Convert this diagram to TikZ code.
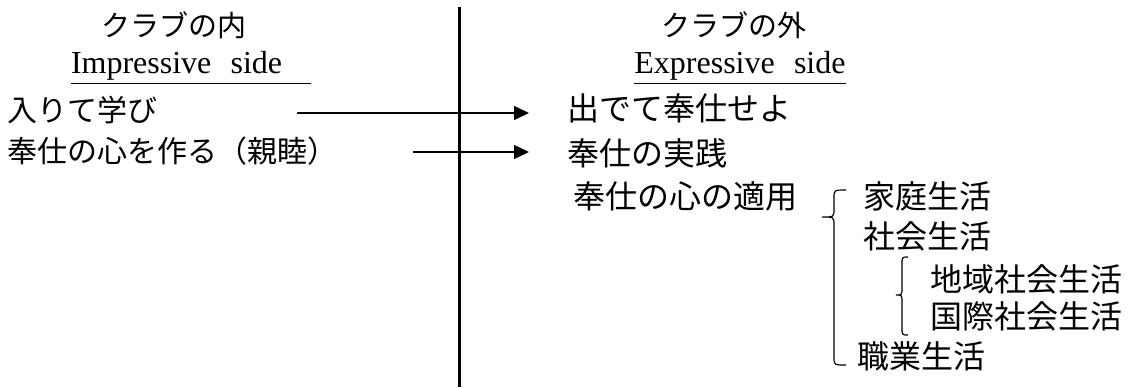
\documentclass[tikz,border=0pt]{standalone}
\usepackage{fontspec}
\setmainfont{Liberation Serif}
\newfontfamily\jpfont{Noto Sans CJK JP}
\usetikzlibrary{arrows.meta}
\def\leftbrace[#1](#2,#3)(#4:#5:#6){\draw[#1] (#2+#3,#4) .. controls (#2,#4) .. (#2,#4+8) -- (#2,#5-8) .. controls (#2,#5) .. (#2-#3,#5) .. controls (#2,#5) .. (#2,#5+8) -- (#2,#6-8) .. controls (#2,#6) .. (#2+#3,#6);}
\tikzset{
  head/.style={font=\jpfont\fontsize{14.5}{16}\selectfont, inner sep=0pt},
  side/.style={font=\fontsize{16}{18}\selectfont, inner sep=0pt},
  left/.style={font=\jpfont\fontsize{15}{18}\selectfont, inner sep=0pt, anchor=west},
  right/.style={font=\jpfont\fontsize{16}{18}\selectfont, inner sep=0pt, anchor=west},
  arr/.style={line width=0.75pt, -{Triangle[length=7.5pt,width=7pt]}, shorten >=19pt}
}

\begin{document}
\begin{tikzpicture}[x=0.5pt,y=-0.5pt]
		%%%%% START %%%%%
		\useasboundingbox (0,0) rectangle (1136,387);
		
		\draw[line width=1.5pt] (459,7) -- (459,387);
		
		\node[head] (inhead) at (174,25) {クラブの内};
		\node[head] (outhead) at (734,25) {クラブの外};
		\node[side] (inside) at (191,68) {\underline{Impressive\hspace{0.6em}side\hspace{0.9em}}};
		\node[side] (outside) at (740,68) {\underline{Expressive\hspace{0.6em}side}};
		
		\node[left] (learn) at (7,110) {入りて学び};
		\node[left] (heart) at (7,151) {奉仕の心を作る（親睦）};
		
		\node[right] (serve) at (567,108) {出でて奉仕せよ};
		\node[right] (practice) at (567,153) {奉仕の実践};
		\node[right] (apply) at (573,196) {奉仕の心の適用};
		
		\coordinate (a1) at (297,113);
		\coordinate (a2) at (413,152);
		\draw[arr] (a1) -- (a1 -| serve.west);
		\draw[arr] (a2) -- (a2 -| practice.west);
		
		\leftbrace[line width=0.6pt](834,12)(190:217:365)
		\node[right] (home) at (863,196) {家庭生活};
		\node[right] (society) at (863,236) {社会生活};
		
		\leftbrace[line width=0.6pt](902,6)(257:295:335)
		\node[right] (local) at (930,279) {地域社会生活};
		\node[right] (world) at (930,316) {国際社会生活};
		
		\node[right] (work) at (857,356) {職業生活};
		
		%%%%% END %%%%%
	\end{tikzpicture}
\end{document}
